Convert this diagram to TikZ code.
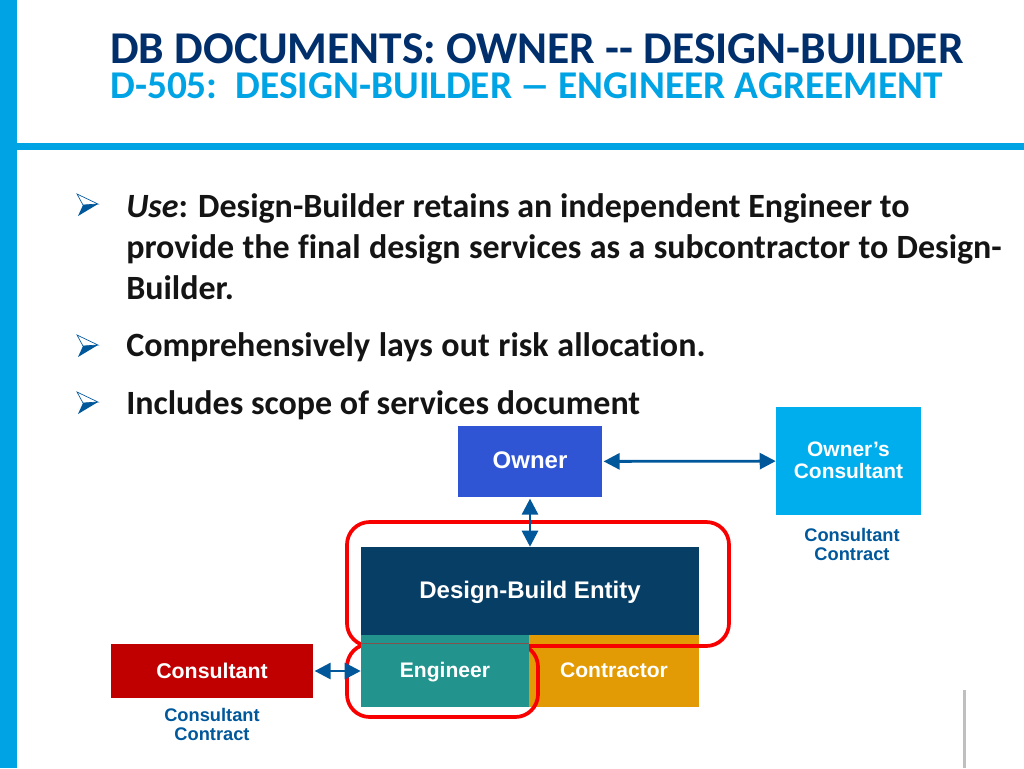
\documentclass[tikz,border=0pt]{standalone}
\usepackage{fontspec}
\setmainfont[Ligatures=NoCommon]{Carlito}
\newfontfamily\boxfont{Liberation Sans}
\usetikzlibrary{arrows.meta}
\definecolor{sky}{HTML}{00A3E4}
\definecolor{lightsky}{HTML}{00AEEE}
\definecolor{navy}{HTML}{002F6C}
\definecolor{ownerblue}{HTML}{2F55D4}
\definecolor{entity}{HTML}{073E66}
\definecolor{teal2}{HTML}{23938D}
\definecolor{amber}{HTML}{E29B04}
\definecolor{crimson}{HTML}{C00000}
\definecolor{linkblue}{HTML}{00589B}
\definecolor{ringred}{HTML}{F80000}
\tikzset{
  x=0.75pt,y=-0.75pt,
  solidbox/.style={fill=#1,draw=none,inner sep=0pt,text=white,align=center},
  boxlabel/.style={inner sep=0pt,text=white,align=center,font=\boxfont\bfseries\fontsize{#1}{16.5}\selectfont},
  bodytext/.style={anchor=base west,inner sep=0pt,font=\bfseries\fontsize{25.5}{30}\selectfont,text=black!92},
  caption/.style={inner sep=0pt,align=center,text=linkblue,font=\boxfont\bfseries\fontsize{13.7}{14.2}\selectfont},
  linkarrow/.style={draw=linkblue,line width=2.1pt,shorten <=1pt,{Triangle[length=12pt,width=12pt]}-{Triangle[length=12pt,width=12pt]}},
  ring/.style={draw=ringred,line width=2.8pt,rounded corners=17pt},
  bulletmark/.pic={
    \draw[draw=linkblue,line width=0.5pt,fill=white] (0,1)--(21,11)--(6,12)--cycle;
    \fill[linkblue] (1,23)--(21,11)--(6,12)--cycle;
  }
}
\begin{document}
\begin{tikzpicture}
\useasboundingbox (0,0) rectangle (1024,768);
\fill[white] (0,0) rectangle (1024,768);
\fill[sky] (0,0) rectangle (17,768);
\fill[sky] (17,143) rectangle (1024,150);
\fill[black!25] (963,690) rectangle (966,768);
\node[anchor=base west,inner sep=0pt,text=navy,font=\bfseries\fontsize{34.1}{36}\selectfont] (title) at (110,63.5) {DB DOCUMENTS: OWNER -{}- DESIGN-BUILDER};
\node[anchor=base west,inner sep=0pt,text=sky,font=\bfseries\fontsize{29.5}{30}\selectfont] (subtitle) at (110,98) {D-505:\ \ DESIGN-BUILDER \hspace{-1pt}\scalebox{1.6}[1]{–}\hspace{-1pt} ENGINEER AGREEMENT};
\pic at (77,193) {bulletmark};
\pic at (77,334) {bulletmark};
\pic at (77,391) {bulletmark};
\node[bodytext] (l1) at (126,217) {\textit{Use}: Design-Builder retains an independent Engineer to};
\node[bodytext] (l2) at (126,258) {\spaceskip=0.247em provide the final design services as a subcontractor to Design-};
\node[bodytext] (l3) at (126,299) {Builder.};
\node[bodytext] (l4) at (126,356) {\spaceskip=0.255em Comprehensively lays out risk allocation.};
\node[bodytext] (l5) at (126,414) {Includes scope of services document};
\node[solidbox=amber,minimum width=127.5pt,minimum height=54pt] (contractor) at (614,671) {};
\draw[ring] (347,522) rectangle (729,646);
\draw[ring] (347,644) rectangle (538,717);
\node[solidbox=ownerblue,minimum width=108pt,minimum height=53.25pt] (owner) at (530,461.5) {};
\node[boxlabel=18] (ownerlabel) at (530,460) {Owner};
\node[solidbox=lightsky,minimum width=108.75pt,minimum height=81pt] (oc) at (848.5,461) {};
\node[boxlabel=15.7] (oclabel) at (848.5,460) {Owner’s\\Consultant};
\node[caption] (cc1) at (852,544.5) {Consultant\\Contract};
\node[solidbox=entity,minimum width=253.5pt,minimum height=66pt] (entity) at (530,591) {};
\node[boxlabel=18] (entitylabel) at (530,592) {Design-Build Entity};
\node[solidbox=teal2,minimum width=126pt,minimum height=54pt] (engineer) at (445,671) {};
\draw[draw=ringred!45!teal2,line width=0.5pt] (engineer.west |- 0,643) -- (engineer.east |- 0,643);
\node[boxlabel=15.8] (engineerlabel) at (445,672) {Engineer};
\node[boxlabel=15.8] (contractorlabel) at (614,670) {Contractor};
\node[solidbox=crimson,minimum width=151.5pt,minimum height=40.5pt,font=\boxfont\bfseries\fontsize{16}{18}\selectfont] (consultant) at (212,671) {Consultant};
\node[caption] (cc2) at (212,724.5) {Consultant\\Contract};
\draw[linkarrow] (owner) -- (oc);
\draw[linkarrow] (owner) -- (entity);
\draw[linkarrow] (consultant) -- (engineer);
\end{tikzpicture}
\end{document}
